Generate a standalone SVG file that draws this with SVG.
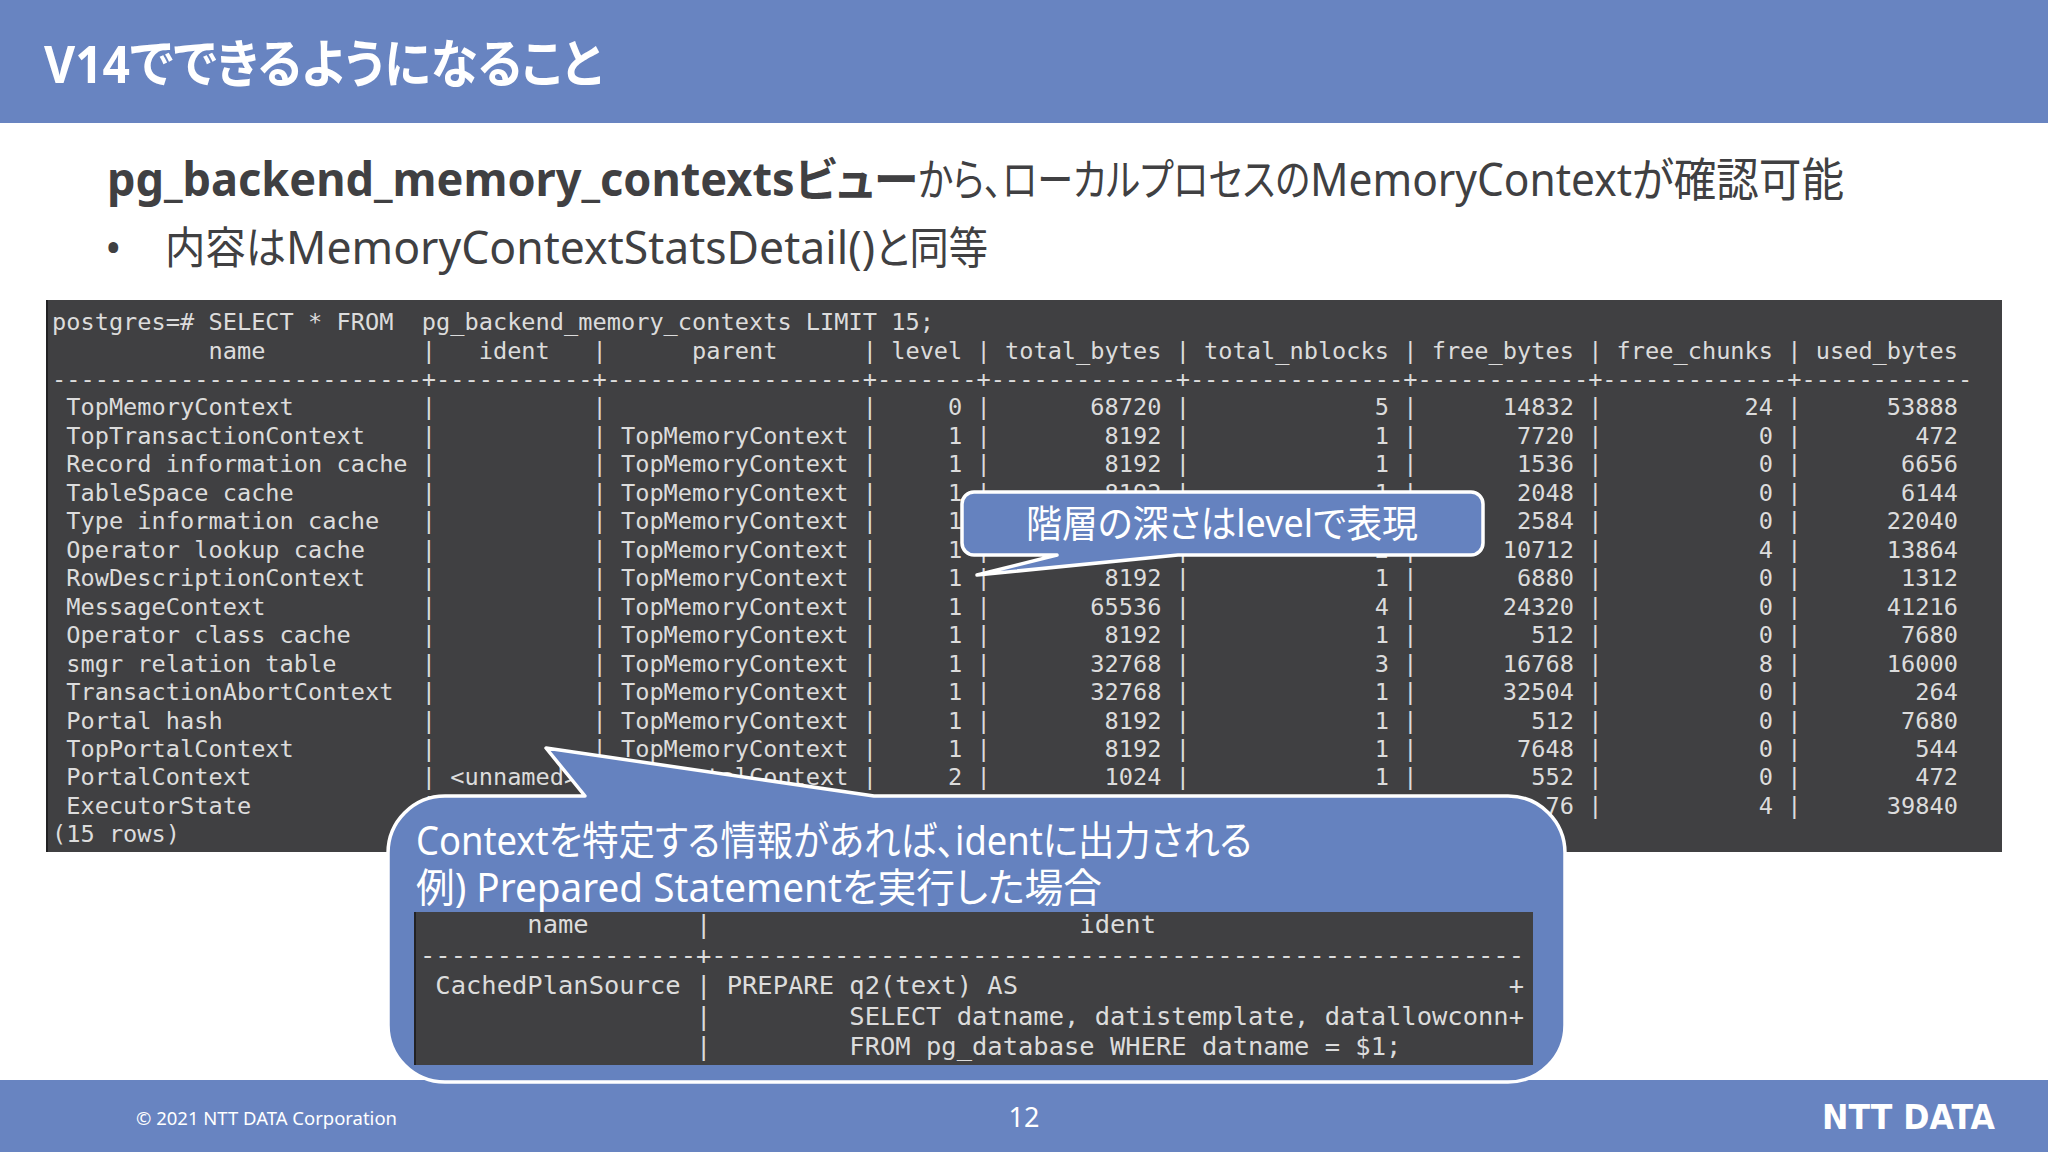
<svg xmlns="http://www.w3.org/2000/svg" width="2048" height="1152" viewBox="0 0 2048 1152">
<style>
.bar{fill:#6884c1}
.ui{font-family:"Noto Sans","Noto Sans CJK JP",sans-serif;font-feature-settings:"palt"}
.w{fill:#fff}
.d{fill:#404042}
.term{fill:#404042}
.edge{fill:#222224}
.tt{font-family:"DejaVu Sans Mono","Liberation Mono",monospace;font-size:23.64px;fill:#dcdcdc;white-space:pre}
.t2{font-family:"DejaVu Sans Mono","Liberation Mono",monospace;font-size:25.48px;fill:#dcdcdc;white-space:pre}
.co{fill:#6582bf;stroke:#fff;stroke-width:3.5;stroke-linejoin:round}
</style>
<rect width="2048" height="1152" fill="#fff"/>
<g id="header">
<rect class="bar" width="2048" height="123"/>
<text class="ui w" x="44" y="83" font-size="52" font-weight="700" textLength="558" lengthAdjust="spacingAndGlyphs">V14でできるようになること</text>
</g>
<g id="body-text">
<text class="ui d" x="107" y="196" font-size="46" font-weight="700" textLength="811" lengthAdjust="spacingAndGlyphs">pg_backend_memory_contextsビュー</text>
<text class="ui d" x="918" y="196" font-size="44" textLength="392" lengthAdjust="spacingAndGlyphs">から、ローカルプロセスの</text>
<text class="ui d" x="1310" y="196" font-size="46" textLength="322" lengthAdjust="spacingAndGlyphs">MemoryContext</text>
<text class="ui d" x="1632" y="196" font-size="46" textLength="212" lengthAdjust="spacingAndGlyphs">が確認可能</text>
<text class="ui d" x="105" y="264" font-size="44">•</text>
<text class="ui d" x="165" y="264" font-size="44" textLength="121" lengthAdjust="spacingAndGlyphs">内容は</text>
<text class="ui d" x="286" y="264" font-size="46" textLength="589" lengthAdjust="spacingAndGlyphs">MemoryContextStatsDetail()</text>
<text class="ui d" x="875" y="264" font-size="44" textLength="113" lengthAdjust="spacingAndGlyphs">と同等</text>
</g>
<g id="terminal">
<rect class="term" x="46" y="300" width="1956" height="552"/>
<rect class="edge" x="46" y="300" width="2" height="552"/>
<text class="tt" x="52" y="330">postgres=# SELECT * FROM  pg_backend_memory_contexts LIMIT 15;</text>
<text class="tt" x="52" y="358.5">           name           |   ident   |      parent      | level | total_bytes | total_nblocks | free_bytes | free_chunks | used_bytes</text>
<text class="tt" x="52" y="387">--------------------------+-----------+------------------+-------+-------------+---------------+------------+-------------+------------</text>
<text class="tt" x="52" y="415.4"> TopMemoryContext         |           |                  |     0 |       68720 |             5 |      14832 |          24 |      53888</text>
<text class="tt" x="52" y="443.9"> TopTransactionContext    |           | TopMemoryContext |     1 |        8192 |             1 |       7720 |           0 |        472</text>
<text class="tt" x="52" y="472.3"> Record information cache |           | TopMemoryContext |     1 |        8192 |             1 |       1536 |           0 |       6656</text>
<text class="tt" x="52" y="500.8"> TableSpace cache         |           | TopMemoryContext |     1 |        8192 |             1 |       2048 |           0 |       6144</text>
<text class="tt" x="52" y="529.3"> Type information cache   |           | TopMemoryContext |     1 |             |               |       2584 |           0 |      22040</text>
<text class="tt" x="52" y="557.7"> Operator lookup cache    |           | TopMemoryContext |     1 |             |             2 |      10712 |           4 |      13864</text>
<text class="tt" x="52" y="586.2"> RowDescriptionContext    |           | TopMemoryContext |     1 |        8192 |             1 |       6880 |           0 |       1312</text>
<text class="tt" x="52" y="614.6"> MessageContext           |           | TopMemoryContext |     1 |       65536 |             4 |      24320 |           0 |      41216</text>
<text class="tt" x="52" y="643.1"> Operator class cache     |           | TopMemoryContext |     1 |        8192 |             1 |        512 |           0 |       7680</text>
<text class="tt" x="52" y="671.5"> smgr relation table      |           | TopMemoryContext |     1 |       32768 |             3 |      16768 |           8 |      16000</text>
<text class="tt" x="52" y="700"> TransactionAbortContext  |           | TopMemoryContext |     1 |       32768 |             1 |      32504 |           0 |        264</text>
<text class="tt" x="52" y="728.5"> Portal hash              |           | TopMemoryContext |     1 |        8192 |             1 |        512 |           0 |       7680</text>
<text class="tt" x="52" y="756.9"> TopPortalContext         |           | TopMemoryContext |     1 |        8192 |             1 |       7648 |           0 |        544</text>
<text class="tt" x="52" y="785.4"> PortalContext            | &lt;unnamed&gt; | TopPortalContext |     2 |        1024 |             1 |        552 |           0 |        472</text>
<text class="tt" x="52" y="813.8"> ExecutorState            |           |                  |       |             |               |         76 |           4 |      39840</text>
<text class="tt" x="52" y="842.3">(15 rows)</text>
</g>
<g id="footer">
<rect class="bar" y="1080" width="2048" height="72"/>
<text class="ui w" x="136" y="1125" font-size="18" textLength="261" lengthAdjust="spacingAndGlyphs">© 2021 NTT DATA Corporation</text>
<text class="ui w" x="1024" y="1127" font-size="27" text-anchor="middle">12</text>
<text class="w" x="1822" y="1129" font-family="'DejaVu Sans',sans-serif" font-weight="700" font-size="33" textLength="173" lengthAdjust="spacingAndGlyphs">NTT DATA</text>
</g>
<g id="callout-level">
<path class="co" d="M974 492H1471a12 12 0 0 1 12 12V543a12 12 0 0 1-12 12H1178L977 575L1057 555H974a12 12 0 0 1-12-12V504a12 12 0 0 1 12-12Z"/>
<text class="ui w" x="1026" y="537" font-size="38" textLength="392" lengthAdjust="spacingAndGlyphs">階層の深さはlevelで表現</text>
</g>
<g id="callout-ident">
<path class="co" d="M445 796H585L546 748L874 796H1508a57 57 0 0 1 57 57V1025a57 57 0 0 1-57 57H445a57 57 0 0 1-57-57V853a57 57 0 0 1 57-57Z"/>
<text class="ui w" x="416" y="855" font-size="40" textLength="836" lengthAdjust="spacingAndGlyphs">Contextを特定する情報があれば、identに出力される</text>
<text class="ui w" x="416" y="902" font-size="40" textLength="686" lengthAdjust="spacingAndGlyphs">例) Prepared Statementを実行した場合</text>
<rect class="term" x="414" y="912" width="1119" height="153"/>
<rect class="edge" x="414" y="912" width="2" height="153"/>
<text class="t2" x="420" y="933">       name       |                        ident</text>
<text class="t2" x="420" y="963.5">------------------+-----------------------------------------------------</text>
<text class="t2" x="420" y="994"> CachedPlanSource | PREPARE q2(text) AS                                +</text>
<text class="t2" x="420" y="1024.5">                  |         SELECT datname, datistemplate, datallowconn+</text>
<text class="t2" x="420" y="1055">                  |         FROM pg_database WHERE datname = $1;</text>
</g>
</svg>
